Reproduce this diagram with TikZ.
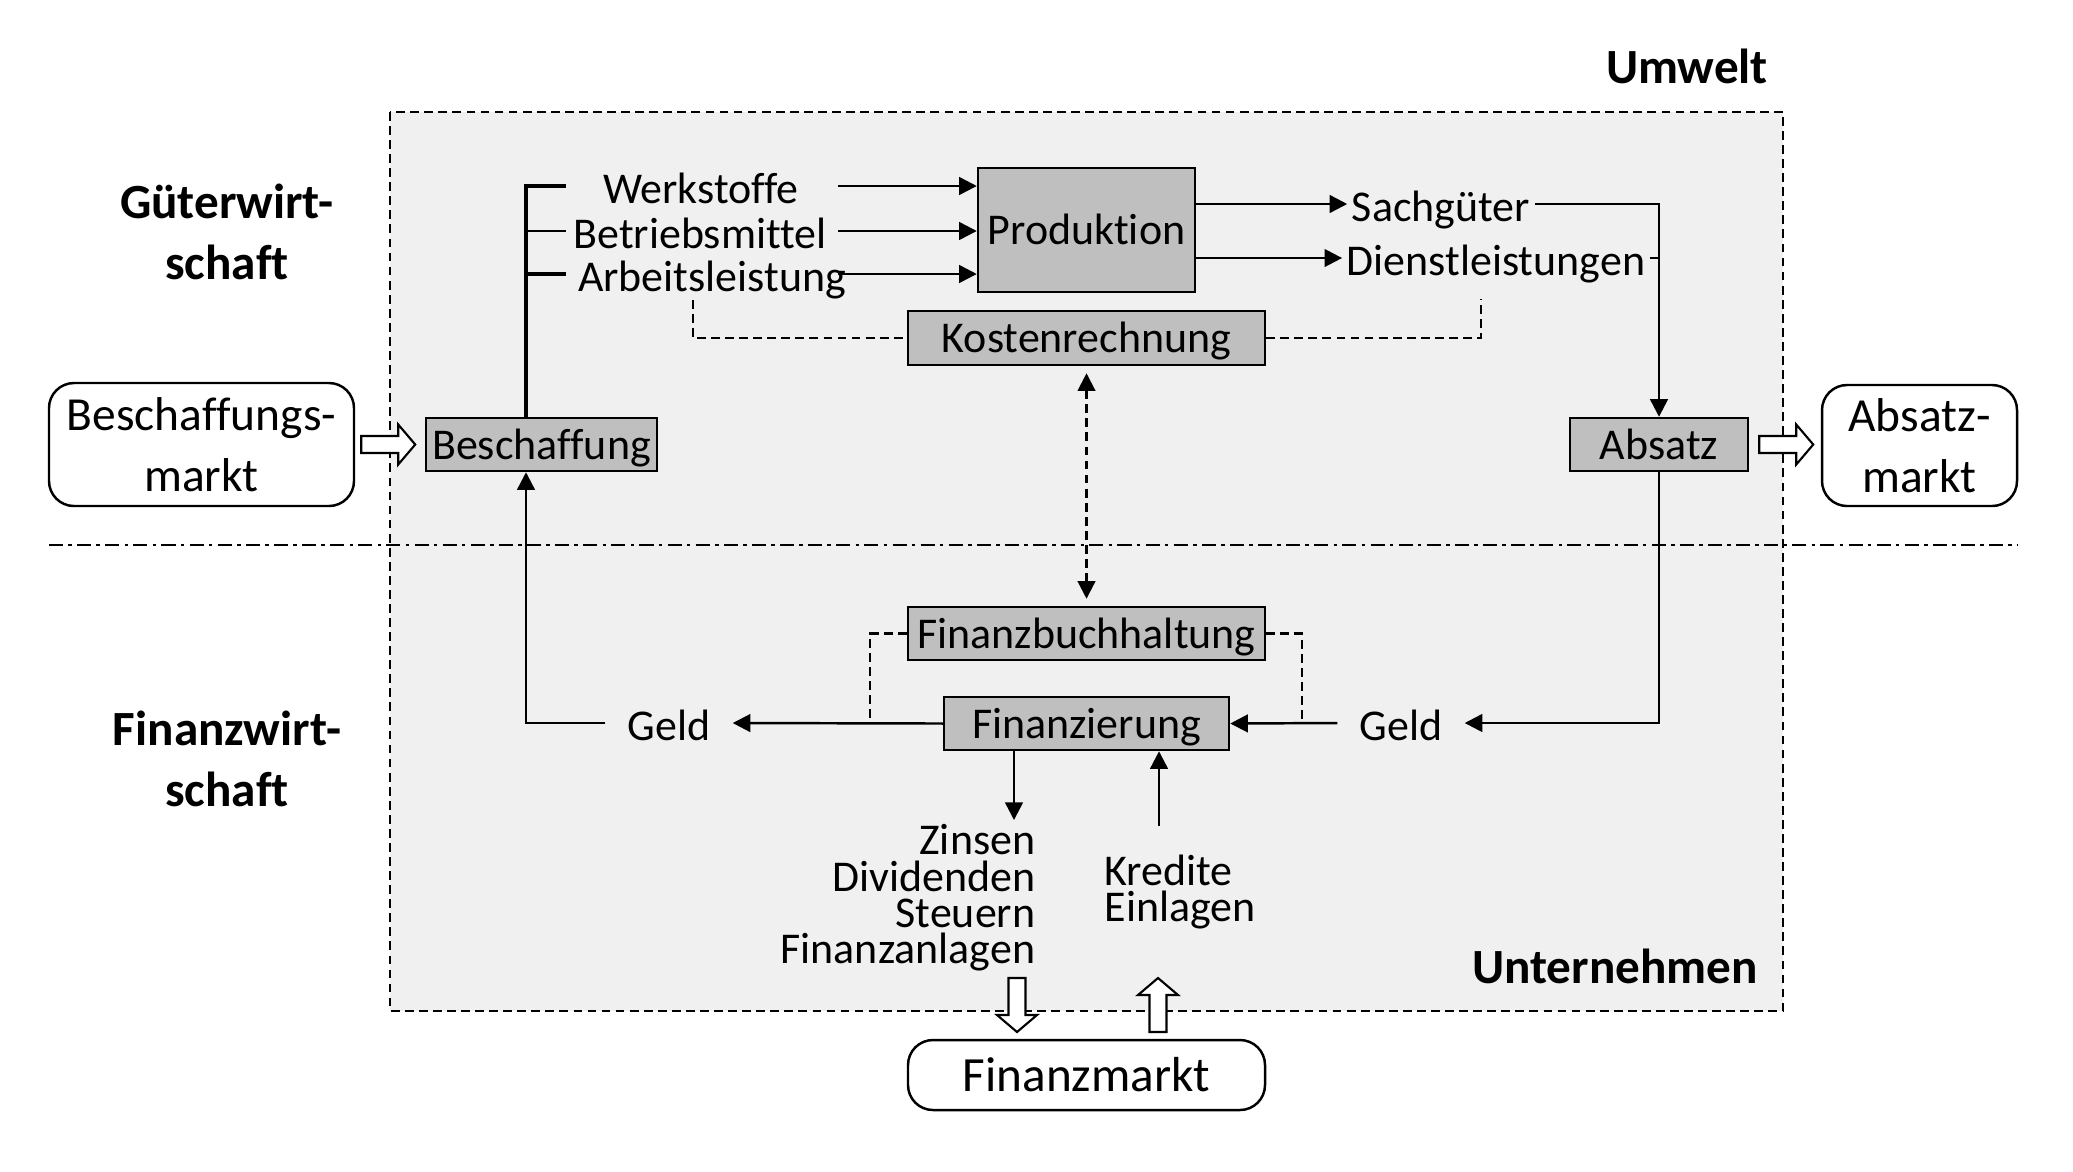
\documentclass[tikz,border=0pt]{standalone}
\usepackage{fontspec}
\setmainfont{Carlito}[Ligatures=NoCommon]
\usetikzlibrary{arrows.meta}
\definecolor{boxgray}{RGB}{191,191,191}
\definecolor{bggray}{RGB}{240,240,240}
\tikzset{hollow/.pic={\draw[fill=white, line width=0.6pt, line join=miter] (0,-0.085) -- (0.37,-0.085) -- (0.37,-0.2) -- (0.54,0) -- (0.37,0.2) -- (0.37,0.085) -- (0,0.085) -- cycle;}}
\begin{document}
\begin{tikzpicture}[line width=0.7pt, >={Triangle[length=5pt,width=5pt]},
		font=\fontsize{12.5}{14}\selectfont,
		box/.style={draw, fill=boxgray, inner sep=0pt, text height=9.5pt, text depth=1pt},
		markt/.style={draw, fill=white, rounded corners=0.25cm, align=center, font=\fontsize{13.5}{17.4}\selectfont},
		lbl/.style={inner sep=1pt, text height=11pt, text depth=1pt},
		bold/.style={align=center, font=\fontsize{14}{17.4}\selectfont\bfseries},
		dsh/.style={dash pattern=on 2.5pt off 1.5pt, line width=0.6pt}]
	\useasboundingbox (0,0) rectangle (20.73,-11.71);
	% Umwelt / Unternehmen
	\draw[dsh, fill=bggray] (3.90,-1.12) rectangle (17.83,-10.11);
	\draw[dash pattern=on 4pt off 1.5pt on 1pt off 1.5pt, line width=0.6pt] (0.49,-5.45) -- (20.18,-5.45);
	\node[bold] (umwelt) at (16.87,-0.66) {Umwelt};
	\node[bold] (unternehmen) at (16.15,-9.66) {Unternehmen};
	\node[bold] (gw) at (2.27,-2.32) {Güterwirt-\\schaft};
	\node[bold] (fw) at (2.27,-7.59) {Finanzwirt-\\schaft};
	% Boxen
	\node[box, minimum width=2.31cm, minimum height=0.53cm] (besch) at (5.415,-4.445) {Beschaffung};
	\node[box, minimum width=1.78cm, minimum height=0.53cm] (absatz) at (16.59,-4.445) {Absatz};
	\node[box, minimum width=2.17cm, minimum height=1.24cm] (prod) at (10.865,-2.30) {Produktion};
	\node[box, minimum width=3.57cm, minimum height=0.54cm] (kosten) at (10.865,-3.38) {Kostenrechnung};
	\node[box, minimum width=3.57cm, minimum height=0.53cm] (fibu) at (10.865,-6.335) {Finanzbuchhaltung};
	\node[box, minimum width=2.85cm, minimum height=0.53cm] (finanz) at (10.865,-7.235) {Finanzierung};
	\node[markt, minimum width=3.05cm, minimum height=1.23cm] (bmarkt) at (2.015,-4.445) {Beschaffungs-\\markt};
	\node[markt, minimum width=1.95cm, minimum height=1.21cm] (amarkt) at (19.195,-4.455) {Absatz-\\markt};
	\node[markt, minimum width=3.57cm, minimum height=0.70cm, font=\fontsize{14}{17}\selectfont] (fmarkt) at (10.865,-10.75) {Finanzmarkt};
	% Texte
	\node[lbl] (werk) at (7.01,-1.86) {Werkstoffe};
	\node[lbl] (betr) at (7.00,-2.31) {Betriebsmittel};
	\node[lbl] (arb) at (7.12,-2.74) {Arbeitsleistung};
	\node[lbl] (sach) at (14.41,-2.04) {Sachgüter};
	\node[lbl] (dienst) at (14.96,-2.58) {Dienstleistungen};
	\node[lbl, inner sep=6pt] (geldl) at (6.69,-7.23) {Geld};
	\node[lbl, inner sep=6pt] (geldr) at (14.01,-7.23) {Geld};
	\node[anchor=north east, align=right, inner sep=1pt, font=\fontsize{12.5}{10.3}\selectfont] (aus) at (10.40,-8.20) {Zinsen\\Dividenden\\Steuern\\Finanzanlagen};
	\node[anchor=north west, align=left, inner sep=1pt, font=\fontsize{12.5}{10.3}\selectfont] (ein) at (11.00,-8.50) {Kredite\\Einlagen};
	\coordinate (bx) at (5.26,0);
	\coordinate (tx) at (5.66,0);
	\coordinate (in) at (8.38,0);
	\coordinate (kr) at (14.81,-2.99);
	\coordinate (dl) at (8.70,-7.23);
	\coordinate (dr) at (13.02,-7.23);
	\coordinate (dn) at (10.14,-8.20);
	\coordinate (up) at (11.59,-8.26);
	% Gueterstrom
	\draw[line width=0.9pt] (besch.north -| bx) |- (werk -| tx);
	\draw (betr -| bx) -- (betr -| tx);
	\draw[line width=0.9pt] (arb -| bx) -- (arb -| tx);
	\foreach \n in {werk,betr,arb}
		\draw[->] (\n -| in) -- (\n -| prod.west);
	\draw[->] (sach -| prod.east) -- (sach.west);
	\draw[->] (dienst -| prod.east) -- (dienst.west);
	\draw[->] (sach.east) -| (absatz.north);
	\draw (dienst.east) -- (dienst.east -| absatz.north);
	% Rechnungswesen
	\draw[dsh] ([xshift=-0.19cm]arb.south) |- (kosten.west);
	\draw[dsh] (kosten.east) -| (kr);
	\draw[dsh, <->, shorten <=2pt, shorten >=2pt] (kosten.south) -- (fibu.north);
	\draw[dsh] (fibu.west) -| (dl);
	\draw[dsh] (fibu.east) -| (dr);
	% Geldstrom
	\draw[->] (absatz.south) |- (geldr.east);
	\draw[->] (geldr.west) -- (finanz.east);
	\draw[->] (finanz.west) -- (geldl.east);
	\draw[->] (geldl.west) -| (besch.south -| bx);
	\draw[->] (dn |- finanz.south) -- (dn);
	\draw[->] (up) -- (up |- finanz.south);
	% Maerkte
	\pic at ([xshift=0.06cm]bmarkt.east) {hollow};
	\pic at ([xshift=0.1cm]absatz.east) {hollow};
	\pic[rotate=-90] at (10.17,-9.78) {hollow};
	\pic[rotate=90] at (11.58,-10.32) {hollow};
\end{tikzpicture}
\end{document}
